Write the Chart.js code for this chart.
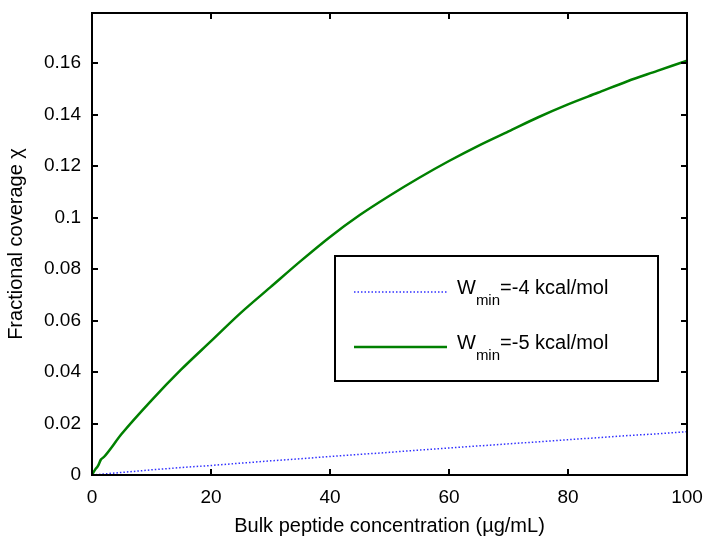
<!DOCTYPE html>
<html>
<head>
<meta charset="utf-8">
<script src="https://cdn.jsdelivr.net/npm/chart.js@4"></script>
<style>
  html, body { margin: 0; padding: 0; background: #fff; }
  #wrap { width: 704px; height: 542px; }
</style>
</head>
<body>
<div id="wrap"><canvas id="myChart" width="704" height="542"></canvas></div>
<script>
let concentration = [0, 0.5, 1, 1.5, 2, 5, 10, 15, 20, 25, 30, 35, 40, 45, 50, 55, 60, 65, 70, 75, 80, 85, 90, 95, 100];
let coverageW4 = [0, 0.0001, 0.0002, 0.0003, 0.0004, 0.001, 0.002, 0.0029, 0.0037, 0.0046, 0.0055, 0.0063, 0.0072, 0.008, 0.0088, 0.0097, 0.0105, 0.0113, 0.0121, 0.0129, 0.0137, 0.0145, 0.0153, 0.016, 0.0168];
let coverageW5 = [0, 0.002, 0.0035, 0.006, 0.007, 0.016, 0.029, 0.041, 0.052, 0.063, 0.073, 0.083, 0.0925, 0.101, 0.1085, 0.1155, 0.122, 0.128, 0.1335, 0.139, 0.144, 0.1485, 0.153, 0.157, 0.161];
let seriesNames = ['-4 kcal/mol', '-5 kcal/mol'];
let xTicks = [0, 20, 40, 60, 80, 100];
let yTicks = [0, 0.02, 0.04, 0.06, 0.08, 0.1, 0.12, 0.14, 0.16];

let font = 'Liberation Sans, Arial, Helvetica, sans-serif';

let toPoints = (xs, ys) => xs.map((x, i) => ({ x: x, y: ys[i] }));

// frame, inward ticks on all four sides, and the boxed legend with subscripts
let matlabAxes = {
  id: 'matlabAxes',
  afterDatasetsDraw(chart) {
    let c = chart.ctx;
    let a = chart.chartArea;
    let xs = chart.scales.x;
    let ys = chart.scales.y;
    c.save();
    c.strokeStyle = '#000';
    c.lineWidth = 2;
    c.beginPath();
    xTicks.forEach(v => {
      let px = Math.round(xs.getPixelForValue(v));
      c.moveTo(px, a.bottom); c.lineTo(px, a.bottom - 6);
      c.moveTo(px, a.top); c.lineTo(px, a.top + 6);
    });
    yTicks.forEach(v => {
      let py = Math.round(ys.getPixelForValue(v));
      c.moveTo(a.left, py); c.lineTo(a.left + 6, py);
      c.moveTo(a.right, py); c.lineTo(a.right - 6, py);
    });
    c.stroke();
    c.strokeRect(a.left, a.top, a.right - a.left, a.bottom - a.top);

    // legend box
    let bx = a.left + 243, by = a.top + 243, bw = 323, bh = 125;
    c.fillStyle = '#fff';
    c.fillRect(bx, by, bw, bh);
    c.strokeRect(bx, by, bw, bh);
    chart.data.datasets.forEach((ds, i) => {
      let ly = by + 36 + i * 55;
      c.save();
      c.strokeStyle = ds.borderColor;
      c.lineWidth = ds.borderWidth;
      c.setLineDash(ds.borderDash || []);
      c.beginPath();
      c.moveTo(bx + 19, ly); c.lineTo(bx + 112, ly);
      c.stroke();
      c.restore();
      c.fillStyle = '#000';
      c.textBaseline = 'middle';
      c.textAlign = 'left';
      c.font = '20px ' + font;
      let tx = bx + 122;
      c.fillText('W', tx, ly - 4);
      tx += c.measureText('W').width;
      c.font = '15px ' + font;
      c.fillText('min', tx, ly + 9);
      tx += c.measureText('min').width;
      c.font = '20px ' + font;
      c.fillText('=' + seriesNames[i], tx, ly - 4);
    });
    c.restore();
  }
};

let ctx = document.getElementById('myChart').getContext('2d');
let myChart = new Chart(ctx, {
  type: 'line',
  data: {
    datasets: [{
      label: seriesNames[0],
      data: toPoints(concentration, coverageW4),
      borderColor: '#3030ff',
      borderWidth: 1.5,
      borderDash: [1.5, 2],
      pointRadius: 0,
      fill: false,
      tension: 0
    }, {
      label: seriesNames[1],
      data: toPoints(concentration, coverageW5),
      borderColor: '#008000',
      borderWidth: 2.5,
      pointRadius: 0,
      fill: false,
      cubicInterpolationMode: 'monotone'
    }]
  },
  options: {
    responsive: false,
    animation: false,
    layout: { padding: { top: 13, right: 17, left: 0, bottom: 0 } },
    plugins: {
      legend: { display: false },
      tooltip: { enabled: false }
    },
    scales: {
      x: {
        type: 'linear',
        min: 0,
        max: 100,
        grid: { display: false, drawTicks: false },
        border: { display: false },
        afterBuildTicks: (scale) => { scale.ticks = xTicks.map(v => ({ value: v })); },
        afterFit: (scale) => { scale.height = 67; scale.paddingRight = 0; scale.paddingLeft = 0; },
        ticks: { color: '#000', font: { family: font, size: 19 }, padding: 11, maxRotation: 0 },
        title: {
          display: true,
          text: 'Bulk peptide concentration (\u00b5g/mL)',
          color: '#000',
          font: { family: font, size: 20 },
          padding: { top: 4 }
        }
      },
      y: {
        type: 'linear',
        min: 0,
        max: 0.1795,
        grid: { display: false, drawTicks: false },
        border: { display: false },
        afterBuildTicks: (scale) => { scale.ticks = yTicks.map(v => ({ value: v })); },
        afterFit: (scale) => { scale.width = 92; scale.paddingTop = 0; scale.paddingBottom = 0; },
        ticks: {
          color: '#000',
          font: { family: font, size: 19 },
          padding: 11,
          callback: (v) => String(+v.toFixed(2))
        },
        title: {
          display: true,
          text: 'Fractional coverage \u03c7',
          color: '#000',
          font: { family: font, size: 20 },
          padding: { bottom: 2 }
        }
      }
    }
  },
  plugins: [matlabAxes]
});
</script>
</body>
</html>
